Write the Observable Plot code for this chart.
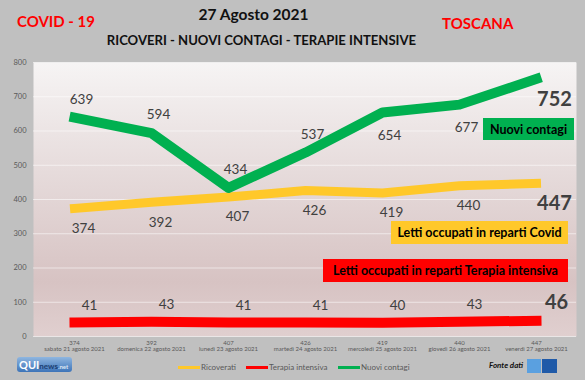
<!DOCTYPE html>
<html><head><meta charset="utf-8">
<script src="https://cdn.jsdelivr.net/npm/d3@7"></script>
<script src="https://cdn.jsdelivr.net/npm/@observablehq/plot@0.6"></script>
<style>
body{margin:0;}
#fig{position:relative;width:585px;height:380px;background:#c0c0c0;overflow:hidden;font-family:Lato,"Open Sans",sans-serif;}
#fig svg{position:absolute;left:0;top:0;}
.abs{position:absolute;white-space:nowrap;}
.box{position:absolute;font-weight:bold;font-size:12.5px;color:#000;display:flex;align-items:center;justify-content:center;box-sizing:border-box;white-space:nowrap;}
.leg{position:absolute;font-size:8px;color:#595959;top:362px;}
.sw{display:inline-block;width:22px;height:3px;vertical-align:middle;margin-right:1px;}
</style></head>
<body><div id="fig"></div>
<script>
const dates = ["sabato 21 agosto 2021","domenica 22 agosto 2021","lunedì 23 agosto 2021","martedì 24 agosto 2021","mercoledì 25 agosto 2021","giovedì 26 agosto 2021","venerdì 27 agosto 2021"];
const ricoverati = [374,392,407,426,419,440,447];
const terapia = [41,43,41,41,40,43,46];
const contagi = [639,594,434,537,654,677,752];
const yTicks = [0,100,200,300,400,500,600,700,800];

const rows = (vals) => dates.map((d,i)=>({date:d, value:vals[i], i}));
const R = rows(ricoverati), T = rows(terapia), C = rows(contagi);
const last = dates.length - 1;
const lbl = {fill:"#404040", fontSize:13.5, fontFamily:"Lato, sans-serif"};
const big = {fill:"#404040", fontSize:20, fontWeight:"bold", fontFamily:"Lato, sans-serif"};

const plot = Plot.plot({
  width:585, height:380,
  marginLeft:33, marginRight:9, marginTop:62, marginBottom:44,
  style:{background:"transparent", fontFamily:"Lato, sans-serif"},
  x:{type:"point", domain:dates, padding:0.5, label:null},
  y:{domain:[0,800], ticks:yTicks, label:null},
  marks:[
    Plot.frame({fill:"url(#panelGrad)", stroke:"none"}),
    Plot.gridY(yTicks, {stroke:"#ffffff", strokeOpacity:0.55, strokeWidth:1}),
    Plot.axisY(yTicks, {tickSize:0, tickPadding:7, fontSize:7.5, fill:"#595959", label:null}),
    Plot.axisX({tickSize:0, tickPadding:4, fontSize:6, fill:"#595959", label:null,
      tickFormat:(d)=> ricoverati[dates.indexOf(d)] + "\n" + d}),
    Plot.line(T, {x:"date", y:"value", stroke:"#ff0000", strokeWidth:10, strokeLinecap:"square", strokeLinejoin:"round"}),
    Plot.line(R, {x:"date", y:"value", stroke:"#ffc82a", strokeWidth:9, strokeLinecap:"square", strokeLinejoin:"round"}),
    Plot.line(C, {x:"date", y:"value", stroke:"#00b050", strokeWidth:10, strokeLinecap:"square", strokeLinejoin:"round"}),
    // contagi labels
    Plot.text(C, {filter:d=>d.i<4, x:"date", y:"value", text:"value", dx:7, dy:-18, ...lbl}),
    Plot.text(C, {filter:d=>d.i>=4 && d.i<last, x:"date", y:"value", text:"value", dx:7, dy:23, ...lbl}),
    Plot.text(C, {filter:d=>d.i===last, x:"date", y:"value", text:"value", dx:18, dy:21, ...big}),
    // ricoverati labels
    Plot.text(R, {filter:d=>d.i<last, x:"date", y:"value", text:"value", dx:9, dy:20, ...lbl}),
    Plot.text(R, {filter:d=>d.i===last, x:"date", y:"value", text:"value", dx:18, dy:20, ...big}),
    // terapia labels
    Plot.text(T, {filter:d=>d.i<last, x:"date", y:"value", text:"value", dx:15, dy:-17, ...lbl}),
    Plot.text(T, {filter:d=>d.i===last, x:"date", y:"value", text:"value", dx:20, dy:-18, ...big})
  ]
});

const ns = "http://www.w3.org/2000/svg";
const defs = document.createElementNS(ns, "defs");
defs.innerHTML = `<linearGradient id="panelGrad" x1="0" y1="0" x2="0" y2="1">
  <stop offset="0" stop-color="#f6f4f4"/>
  <stop offset="0.45" stop-color="#e4d8d8"/>
  <stop offset="0.8" stop-color="#d7c3c3"/>
  <stop offset="1" stop-color="#e0cfcf"/>
</linearGradient>`;
plot.insertBefore(defs, plot.firstChild);

const fig = document.getElementById("fig");
fig.appendChild(plot);
fig.insertAdjacentHTML("beforeend", `
<div class="abs" style="left:17px;top:12px;font-size:15px;font-weight:bold;color:#ff0000;">COVID - 19</div>
<div class="abs" style="left:0;width:507px;text-align:center;top:5px;font-size:15.5px;font-weight:bold;color:#111;">27 Agosto 2021</div>
<div class="abs" style="left:0;width:523px;text-align:center;top:32px;font-size:13.1px;font-weight:bold;color:#111;">RICOVERI - NUOVI CONTAGI - TERAPIE INTENSIVE</div>
<div class="abs" style="left:442px;top:14px;font-size:15px;font-weight:bold;color:#ff0000;">TOSCANA</div>
<div class="box" style="left:483px;top:118px;width:91px;height:22px;background:#00b050;">Nuovi contagi</div>
<div class="box" style="left:391px;top:221px;width:177px;height:23px;background:#ffc82a;">Letti occupati in reparti Covid</div>
<div class="box" style="left:323px;top:259px;width:245px;height:23px;background:#ff0000;">Letti occupati in reparti Terapia intensiva</div>
<div class="leg" style="left:178px;"><span class="sw" style="background:#ffc82a"></span>Ricoverati</div>
<div class="leg" style="left:246px;"><span class="sw" style="background:#ff0000"></span>Terapia intensiva</div>
<div class="leg" style="left:338px;"><span class="sw" style="background:#00b050"></span>Nuovi contagi</div>
<div class="abs" style="left:17px;top:357px;width:55px;height:15px;border-radius:3px;background:linear-gradient(#8fb6e0,#3d74b8);font-weight:bold;font-size:11px;color:#fff;line-height:15px;padding-left:2px;box-sizing:border-box;">QUI<span style="font-size:8px;color:#1d3f73;">news</span><span style="font-size:6px;color:#dfe8f4;">.net</span></div>
<div class="abs" style="left:489px;top:360px;font-size:8px;font-style:italic;font-weight:bold;color:#111;">Fonte dati</div>
<div class="abs" style="left:527px;top:359px;width:14px;height:14px;background:#5aa0e0;"></div>
<div class="abs" style="left:542px;top:359px;width:15px;height:14px;background:#1f5aa8;"></div>
`);
</script></body></html>
